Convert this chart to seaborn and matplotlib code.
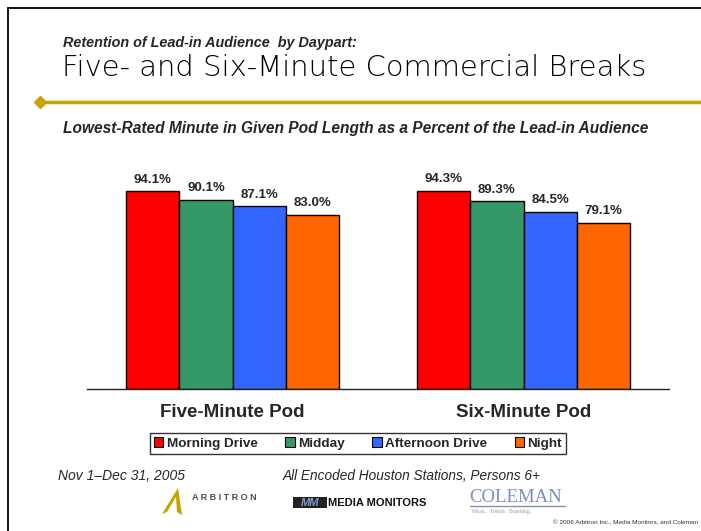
import pandas as pd
import numpy as np
import matplotlib
matplotlib.use("Agg")
import matplotlib.pyplot as plt
import seaborn as sns
from matplotlib.patches import Rectangle, Polygon
from matplotlib.lines import Line2D

# data
pods = ["Five-Minute Pod", "Six-Minute Pod"]
dayparts = ["Morning Drive", "Midday", "Afternoon Drive", "Night"]
five_min = [94.1, 90.1, 87.1, 83.0]
six_min = [94.3, 89.3, 84.5, 79.1]
colors = ["#FF0000", "#339966", "#3366FF", "#FF6600"]

rows = []
for pod, vals in zip(pods, [five_min, six_min]):
    for dp, v in zip(dayparts, vals):
        rows.append({"pod": pod, "daypart": dp, "pct": v})
df = pd.DataFrame(rows)

sns.set_theme(style="white")
plt.rcParams["font.family"] = ["Liberation Sans", "DejaVu Sans"]

W, H = 701, 531
fig = plt.figure(figsize=(W / 100, H / 100), dpi=100)

def fx(px):
    return px / W

def fy(py):
    return 1 - py / H

# slide frame
fig.add_artist(Line2D([fx(8), fx(8)], [fy(8), 0], color="black", lw=1.3))
fig.add_artist(Line2D([fx(8), 1], [fy(8), fy(8)], color="black", lw=1.3))

# headings
fig.text(fx(63), fy(43), "Retention of Lead-in Audience  by Daypart:", fontsize=10.4,
         fontweight="bold", style="italic", va="center", ha="left")
fig.text(fx(62), fy(68), "Five- and Six-Minute Commercial Breaks", fontsize=20.9,
         family=["DejaVu Sans"], fontweight="light", va="center", ha="left", color="#000000")
fig.add_artist(Line2D([fx(40), 1], [fy(102), fy(102)], color="#C8A200", lw=2.5))
fig.add_artist(Line2D([fx(40)], [fy(102)], marker="D", markersize=6,
                      color="#C8A200", lw=0))
fig.text(fx(63), fy(128), "Lowest-Rated Minute in Given Pod Length as a Percent of the Lead-in Audience",
         fontsize=11.2, fontweight="bold", style="italic", va="center", ha="left")

# bar chart
ax = fig.add_axes([fx(87), fy(389), fx(669) - fx(87), 210 / H])
sns.barplot(data=df, x="pod", y="pct", hue="daypart", hue_order=dayparts,
            palette=colors, width=0.73, edgecolor="black", linewidth=1,
            saturation=1, legend=False, ax=ax)
ax.set_ylim(0, 100)
ax.set_xlim(-0.5, 1.5)
for cont in ax.containers:
    ax.bar_label(cont, labels=[f"{v:.1f}%" for v in cont.datavalues],
                 padding=4, fontsize=9.5, fontweight="bold")
for s in ["left", "right", "top"]:
    ax.spines[s].set_visible(False)
ax.spines["bottom"].set_color("#222222")
ax.spines["bottom"].set_linewidth(1)
ax.set_yticks([])
ax.set_xlabel("")
ax.set_ylabel("")
ax.tick_params(axis="x", length=0, pad=10.5)
for lab in ax.get_xticklabels():
    lab.set_fontsize(13.5)
    lab.set_fontweight("bold")

# legend
handles = [Rectangle((0, 0), 1, 1, facecolor=c, edgecolor="black", lw=0.8) for c in colors]
leg = fig.legend(handles, dayparts, loc="center", bbox_to_anchor=(fx(358), fy(443.5)),
                 ncol=4, frameon=True, fancybox=False, edgecolor="black",
                 prop={"weight": "bold", "size": 9.7}, handlelength=0.7, handleheight=0.7,
                 handletextpad=0.25, columnspacing=2.05, borderpad=0.3, borderaxespad=0)
leg.get_frame().set_linewidth(1)

# footer
fig.text(fx(58), fy(476), "Nov 1\u2013Dec 31, 2005", fontsize=10, style="italic",
         va="center", ha="left")
fig.text(fx(283), fy(476), "All Encoded Houston Stations, Persons 6+", fontsize=9.8,
         style="italic", va="center", ha="left")

# logos (approximated)
fig.add_artist(Polygon([[fx(162), fy(514)], [fx(178), fy(488)], [fx(182), fy(515)],
                        [fx(177), fy(512)], [fx(176), fy(497)], [fx(167), fy(512)]],
                       closed=True, facecolor="#C8A200", edgecolor="none"))
fig.text(fx(192), fy(498), "A R B I T R O N", fontsize=6.5, fontweight="bold",
         color="#4A4A5A", va="center", ha="left")
fig.add_artist(Rectangle((fx(293), fy(508)), fx(34), 11 / H, facecolor="#222222",
                         edgecolor="none"))
fig.text(fx(310), fy(502.5), "MM", fontsize=8, fontweight="bold", color="#8899CC",
         va="center", ha="center", style="italic")
fig.text(fx(328), fy(502.5), "MEDIA MONITORS", fontsize=8, fontweight="bold",
         color="#111111", va="center", ha="left")
fig.text(fx(469), fy(497), "COLEMAN", fontsize=13.5, family="Liberation Serif",
         color="#7F8CC0", va="center", ha="left")
fig.add_artist(Line2D([fx(470), fx(565)], [fy(506), fy(506)], color="#8890B0", lw=1))
fig.text(fx(472), fy(511), "Music.  Trends.  Branding.", fontsize=4, family="Liberation Serif",
         color="#999999", va="center", ha="left")
fig.text(fx(698), fy(523), "\u00a9 2006 Arbitron Inc., Media Monitors, and Coleman", fontsize=4.6,
         color="#333333", va="center", ha="right")

fig.savefig("out.png", dpi=100)
